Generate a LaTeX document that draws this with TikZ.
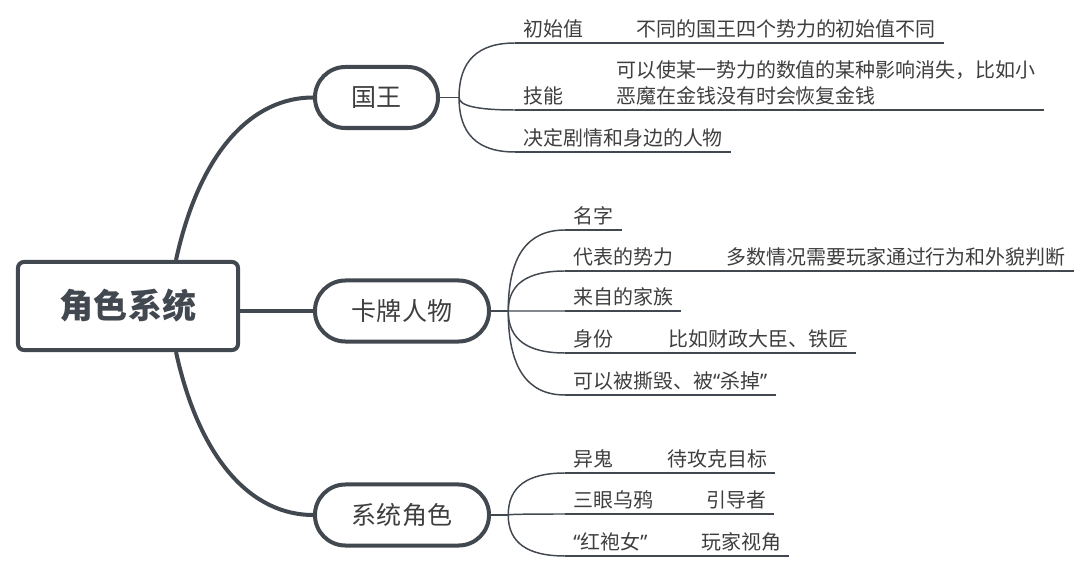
\documentclass[tikz,border=0pt]{standalone}
\usepackage{fontspec}
\setmainfont{Noto Sans CJK SC}
\newfontfamily\quotefont{Noto Sans}
\usepackage{tikz}
\usetikzlibrary{calc}
\definecolor{ink}{HTML}{42484F}
\definecolor{inktext}{HTML}{3E3E3E}
\newcommand{\openq}{{\quotefont “}}
\newcommand{\closeq}{{\quotefont ”}}

\begin{document}
\begin{tikzpicture}[
  x=0.025cm, y=-0.025cm,
  every node/.style={text=inktext},
  rootbox/.style={rectangle, draw=ink, line width=2.85pt,
                  rounded corners=0.15cm, minimum width=5.5cm,
                  minimum height=2.2cm, text=ink,
                  font=\fontsize{24.2}{28}\selectfont\bfseries},
  topic/.style={rectangle, draw=ink, line width=2.85pt,
                rounded corners=0.76cm, minimum height=1.525cm,
                font=\fontsize{17.8}{21}\selectfont},
  leaf/.style={anchor=south west, inner xsep=0.2cm, inner ysep=0.15cm,
               text depth=0pt, font=\fontsize{14.2}{18.5}\selectfont},
  trunk/.style={draw=ink, line width=2.85pt},
  twig/.style={draw=ink, line width=1.05pt},
  uline/.style={draw=ink, line width=2.1pt}
]
\useasboundingbox (0,0) rectangle (1080,576);
% root
\node[rootbox] (root) at (128,306) {角色系统};
% topics
\node[topic, minimum width=3.075cm] (king) at (376.5,97.5) {国王};
\node[topic, minimum width=4.35cm]  (card) at (402,311) {卡牌人物};
\node[topic, minimum width=4.35cm]  (sys)  at (402,515)   {系统角色};
% forks
\coordinate (kingfork) at ([xshift=0.475cm]king.east);
\coordinate (cardfork) at ([xshift=0.43cm]card.east);
\coordinate (sysfork)  at ([xshift=0.43cm]sys.east);
% king leaves
\node[leaf] (init)   at (515,43)  {初始值};
\node[leaf] (initv)  at (628,43)  {不同的国王四个势力的初始值不同};
\node[leaf] (skill)  at (515,110) {技能};
\node[leaf, align=left] (skillv) at (608,110)
      {可以使某一势力的数值的某种影响消失，比如小\\恶魔在金钱没有时会恢复金钱};
\node[leaf] (plot)   at (515,152) {决定剧情和身边的人物};
% card leaves
\node[leaf] (name)     at (565,230) {名字};
\node[leaf] (faction)  at (565,271) {代表的势力};
\node[leaf] (factionv) at (718,271) {多数情况需要玩家通过行为和外貌判断};
\node[leaf] (family)   at (565,311) {来自的家族};
\node[leaf] (ident)    at (565,353) {身份};
\node[leaf] (identv)   at (660,353) {比如财政大臣、铁匠};
\node[leaf] (fate)     at (565,395) {可以被撕毁、被\openq 杀掉\closeq};
% system leaves
\node[leaf] (walker)    at (565,473) {异鬼};
\node[leaf] (walkerv)   at (659,473) {待攻克目标};
\node[leaf] (raven)     at (565,514) {三眼乌鸦};
\node[leaf] (ravenv)    at (698,514) {引导者};
\node[leaf] (redwoman)  at (565,556) {\openq 红袍女\closeq};
\node[leaf] (redwomanv) at (693,556) {玩家视角};
% underlines
\foreach \n in {init,initv,skill,skillv,plot,name,faction,factionv,family,
                ident,identv,fate,walker,walkerv,raven,ravenv,redwoman,redwomanv}
  \draw[uline] (\n.south west) -- (\n.south east);
% root to topics
\draw[trunk] ([xshift=1.2cm]root.north) .. controls +(24,-110) and +(-60,0) .. (king.west);
\draw[trunk] (root.east |- card.west) -- (card.west);
\draw[trunk] ([xshift=1.2cm]root.south) .. controls +(24,110) and +(-60,0) .. (sys.west);
% topics to forks
\draw[twig] (king.east) -- (kingfork);
\draw[twig] (card.east) -- (cardfork);
\draw[twig] (sys.east)  -- (sysfork);
% forks to leaves
\foreach \f/\n in {kingfork/init,kingfork/skill,kingfork/plot,
                   cardfork/name,cardfork/faction,cardfork/family,cardfork/ident,cardfork/fate,
                   sysfork/walker,sysfork/raven,sysfork/redwoman}
  \draw[twig] (\f) .. controls ($(\f)!.67!(\f |- \n.south west)$)
                   and ($(\n.south west)!.67!(\f |- \n.south west)$) .. (\n.south west);
% leaves to values
\draw[twig] (init.south east)     -- (initv.south west);
\draw[twig] (skill.south east)    -- (skillv.south west);
\draw[twig] (faction.south east)  -- (factionv.south west);
\draw[twig] (ident.south east)    -- (identv.south west);
\draw[twig] (walker.south east)   -- (walkerv.south west);
\draw[twig] (raven.south east)    -- (ravenv.south west);
\draw[twig] (redwoman.south east) -- (redwomanv.south west);
\end{tikzpicture}
\end{document}
